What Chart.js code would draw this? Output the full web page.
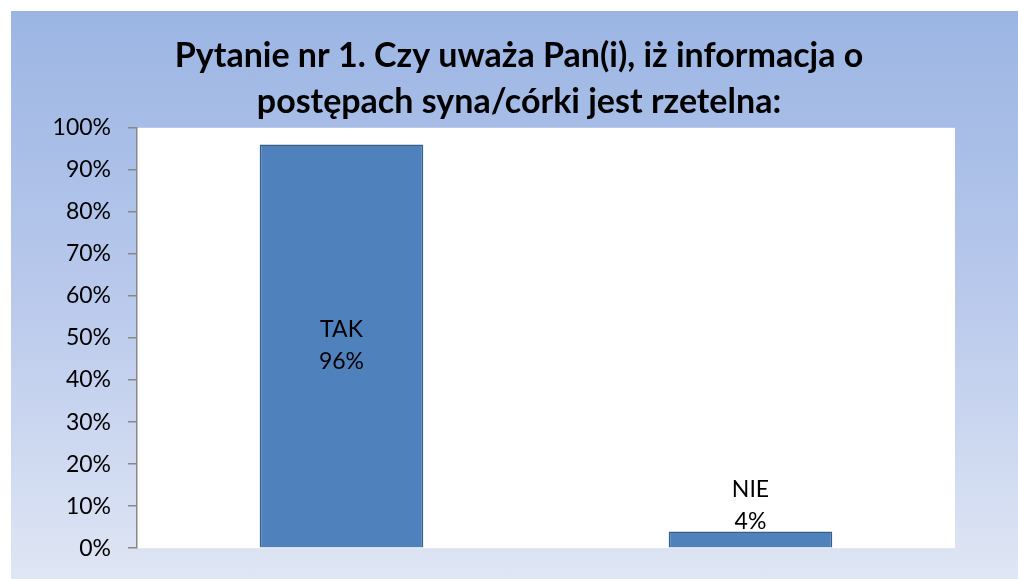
<!DOCTYPE html>
<html>
<head>
<meta charset="utf-8">
<script src="https://cdn.jsdelivr.net/npm/chart.js@4/dist/chart.umd.min.js"></script>
<style>
  html, body { margin: 0; padding: 0; background: #fff; }
  #wrap {
    position: absolute; left: 11px; top: 11px; width: 1007px; height: 568px;
    background: linear-gradient(to bottom, #9bb5e3 0%, #b9c9ec 50%, #dfe6f4 100%);
  }
</style>
</head>
<body>
<div id="wrap"><canvas id="BarChart"></canvas></div>
<script>
const categories = ['TAK', 'NIE'];
const percentValues = [96, 4];
const tickLabels = ['0%', '10%', '20%', '30%', '40%', '50%', '60%', '70%', '80%', '90%', '100%'];
const titleLines = ['Pytanie nr 1. Czy uważa Pan(i), iż informacja o', 'postępach syna/córki jest rzetelna:'];

// white plot area behind the bars
const plotBackground = {
  id: 'plotBackground',
  beforeDraw(chart) {
    const a = chart.chartArea;
    const ctx = chart.ctx;
    ctx.save();
    ctx.fillStyle = '#ffffff';
    ctx.fillRect(a.left, a.top, a.right - a.left, a.bottom - a.top);
    ctx.restore();
  }
};

// category + value labels, inside tall bars, above short ones
const barLabels = {
  id: 'barLabels',
  afterDatasetsDraw(chart) {
    const ctx = chart.ctx;
    const meta = chart.getDatasetMeta(0);
    ctx.save();
    ctx.font = '23px Lato';
    ctx.fillStyle = '#000';
    ctx.textAlign = 'center';
    ctx.textBaseline = 'middle';
    meta.data.forEach((bar, i) => {
      const lines = [categories[i], percentValues[i] + '%'];
      let y;
      if (bar.base - bar.y > 80) {
        y = (bar.y + bar.base) / 2 - 16;
      } else {
        y = bar.y - 42;
      }
      ctx.fillText(lines[0], bar.x, y);
      ctx.fillText(lines[1], bar.x, y + 32);
    });
    ctx.restore();
  }
};

const dataBar = {
  labels: categories,
  datasets: [{
    data: percentValues,
    backgroundColor: '#4f81bd',
    borderColor: '#3a5d86',
    borderWidth: 1.5,
    categoryPercentage: 1,
    barPercentage: 0.4
  }]
};

const configBar = {
  type: 'bar',
  data: dataBar,
  plugins: [plotBackground, barLabels],
  options: {
    responsive: true,
    maintainAspectRatio: false,
    animation: false,
    layout: { padding: { left: 9, right: 0, top: 0, bottom: 30 } },
    plugins: {
      legend: { display: false },
      tooltip: { enabled: false },
      title: {
        display: true,
        text: titleLines,
        color: '#000',
        font: { family: 'Lato', size: 34, weight: 'bold', lineHeight: 1.35 },
        padding: { top: 22, bottom: 3 }
      }
    },
    scales: {
      x: { display: false },
      y: {
        min: 0,
        max: 100,
        afterFit(scale) { scale.width = 117; },
        afterBuildTicks(scale) {
          scale.ticks = tickLabels.map((t, i) => ({ value: i * 10 }));
        },
        ticks: {
          callback: (v) => tickLabels[v / 10],
          color: '#000',
          font: { family: 'Lato', size: 23 },
          padding: 17
        },
        grid: { drawOnChartArea: false, drawTicks: true, tickLength: 9, color: '#888888', lineWidth: 1.5 },
        border: { display: true, color: '#888888', width: 1.5 }
      },
      // empty strip on the right of the plot
      yRight: {
        position: 'right',
        display: true,
        afterFit(scale) { scale.width = 63; },
        ticks: { display: false },
        grid: { display: false },
        border: { display: false }
      }
    }
  }
};

const barChart = new Chart(document.getElementById('BarChart'), configBar);
</script>
</body>
</html>
